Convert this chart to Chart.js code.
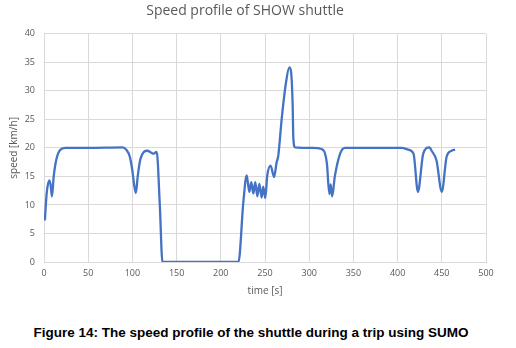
<!DOCTYPE html>
<html>
<head>
<meta charset="utf-8">
<script src="https://cdn.jsdelivr.net/npm/chart.js@4.4.0/dist/chart.umd.min.js"></script>
<style>
    body { margin: 0; background: #fff; width: 516px; height: 348px; overflow: hidden; }
    #wrap { position: absolute; left: 0; top: 0; width: 516px; height: 305px; }
    .caption {
        position: absolute; left: 0; top: 325px; width: 502px; text-align: center;
        font-family: "Liberation Sans", Arial, sans-serif; font-weight: bold; font-size: 13.5px; color: #000;
    }
</style>
</head>
<body>
<div id="wrap"><canvas id="speedChart" width="516" height="305"></canvas></div>
<div class="caption">Figure 14: The speed profile of the shuttle during a trip using SUMO</div>
<script>
// Temps (s) et vitesse (km/h) de la navette
const temps = [
    1, 3, 6, 7.5, 9, 11, 14, 18, 24, 50, 89, 93, 97, 100, 102, 104, 106, 109, 113, 117,
    121, 124, 127.5, 131, 134, 180, 220, 225.5, 229.3, 232.3, 234.5, 236.8, 239, 241.3, 243.6, 246.2,
    248, 250.3, 252.6, 256.4, 260.2, 263.2, 265, 268.9, 273.8, 277.5, 279.4, 281.3, 282, 284,
    304, 314, 320, 322.8, 324.3, 326, 329, 335, 340.5, 405, 412, 418, 423, 429, 436, 438.5,
    444, 450, 455.5, 461, 465
];
const vitesse = [
    7.3, 12, 14.3, 13.5, 11.5, 15, 18, 19.6, 20, 20, 20.1, 19.7, 18.5, 16, 13.5, 12.1, 15, 18, 19.3, 19.5,
    19.2, 19.0, 19.3, 10, 0, 0, 0, 10.5, 15.2, 12.3, 14, 12, 14, 11.5, 13.7, 11.3,
    13.2, 11.2, 15.2, 16.9, 14.9, 17.5, 18.6, 25.1, 31.5, 34.1, 33.4, 27.4, 21.9, 20.1,
    20, 19.8, 17.3, 11.9, 13.6, 11.5, 15, 19, 20, 20, 19.7, 19, 12.3, 19, 20.1, 19.5,
    17.8, 12.3, 18.5, 19.5, 19.7
];
const ticksX = [0, 50, 100, 150, 200, 250, 300, 350, 400, 450, 500];
const ticksY = [0, 5, 10, 15, 20, 25, 30, 35, 40];

const gris = '#595959';
const grille = '#d9d9d9';
const police = '"Open Sans", sans-serif';

const ctx = document.getElementById('speedChart').getContext('2d');
new Chart(ctx, {
    type: 'scatter',
    data: {
        datasets: [{
            label: 'speed',
            data: temps.map((t, i) => ({ x: t, y: vitesse[i] })),
            showLine: true,
            borderColor: '#4472C4',
            borderWidth: 2.3,
            pointRadius: 0,
            cubicInterpolationMode: 'monotone',
            fill: false
        }]
    },
    options: {
        responsive: false,
        animation: false,
        layout: { padding: { left: 4, right: 30, top: 0, bottom: 8 } },
        plugins: {
            legend: { display: false },
            tooltip: { enabled: false },
            title: {
                display: true,
                text: 'Speed profile of SHOW shuttle',
                color: gris,
                font: { family: police, size: 14, weight: 'normal' },
                padding: { top: 3, bottom: 14 }
            }
        },
        scales: {
            x: {
                type: 'linear',
                min: 0, max: 500,
                afterBuildTicks: s => { s.ticks = ticksX.map(v => ({ value: v })); },
                grid: { color: grille, drawTicks: false },
                border: { color: grille },
                ticks: { color: gris, font: { family: police, size: 9 }, padding: 6, maxRotation: 0 },
                title: { display: true, text: 'time [s]', color: gris, font: { family: police, size: 10 }, padding: { top: 2, bottom: 0 } },
                afterFit: s => { s.height = 35; }
            },
            y: {
                min: 0, max: 40,
                afterBuildTicks: s => { s.ticks = ticksY.map(v => ({ value: v })); },
                grid: { color: grille, drawTicks: false },
                border: { color: grille },
                ticks: { color: gris, font: { family: police, size: 9 }, padding: 9 },
                title: { display: true, text: 'speed [km/h]', color: gris, font: { family: police, size: 10 }, padding: { bottom: 4 } },
                afterFit: s => { s.width = 40; }
            }
        }
    }
});
</script>
</body>
</html>
